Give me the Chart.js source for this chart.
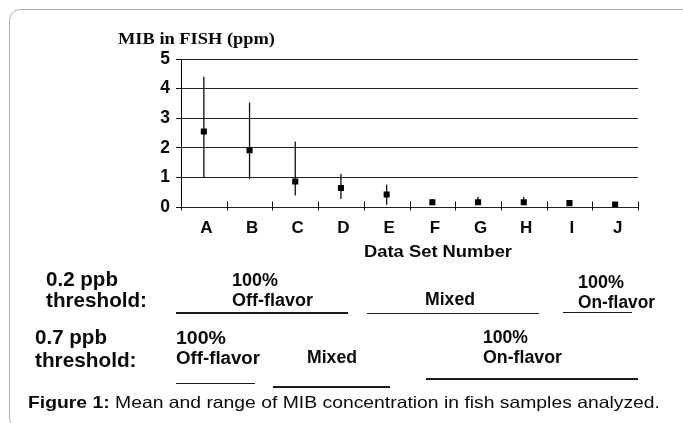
<!DOCTYPE html>
<html><head><meta charset="utf-8">
<script src="https://cdn.jsdelivr.net/npm/chart.js@4.4.1/dist/chart.umd.min.js"></script>
<style>
html,body{margin:0;padding:0;background:#fff;width:683px;height:423px;overflow:hidden;}
#wrap{position:relative;width:683px;height:423px;}
#c{position:absolute;left:0;top:0;}
.t{position:absolute;white-space:nowrap;font-family:"Liberation Sans",Arial,sans-serif;font-weight:bold;color:#0a0a0a;transform-origin:0 0;}
.ln{position:absolute;background:#1a1a1a;height:1.5px;}
#box{position:absolute;left:9px;top:9px;width:690px;height:420px;border:1px solid #b4b4b4;border-radius:11px;box-sizing:border-box;}
</style></head>
<body><div id="wrap"><div id="box"></div><canvas id="c" width="683" height="423"></canvas></div>
<script>
// ---- data ----
const categories = ['A','B','C','D','E','F','G','H','I','J'];
const meanValues = [2.55,1.92,0.86,0.64,0.42,0.16,0.16,0.16,0.13,0.08];
const highValues = [4.40,3.53,2.21,1.12,0.76,0.26,0.35,0.35,0.18,0.10];
const lowValues  = [1.00,0.94,0.39,0.27,0.08,0.13,0.13,0.13,0.10,0.06];
const yMin = 0, yMax = 5, yStep = 1;

const FONT = '"Liberation Sans", Arial, sans-serif';

const rangePlugin = {
  id: 'ranges',
  beforeDatasetsDraw(chart) {
    const {ctx, scales: {x, y}} = chart;
    ctx.save();
    // x axis tick marks crossing the axis at category boundaries
    ctx.strokeStyle = '#111';
    ctx.lineWidth = 1;
    const y0 = y.getPixelForValue(0);
    for (let k = 0; k <= categories.length; k++) {
      const px = Math.round(x.getPixelForValue(k - 0.5)) + 0.5;
      ctx.beginPath();
      ctx.moveTo(px, y0 - 5.5);
      ctx.lineTo(px, y0 + 3.5);
      ctx.stroke();
    }
    // range bars
    ctx.strokeStyle = '#111';
    ctx.lineWidth = 1.3;
    for (let i = 0; i < categories.length; i++) {
      const px = x.getPixelForValue(i);
      ctx.beginPath();
      ctx.moveTo(px, y.getPixelForValue(lowValues[i]));
      ctx.lineTo(px, y.getPixelForValue(highValues[i]));
      ctx.stroke();
    }
    ctx.restore();
  }
};

new Chart(document.getElementById('c'), {
  type: 'line',
  data: {
    labels: categories,
    datasets: [{
      data: meanValues,
      showLine: false,
      pointStyle: 'rect',
      pointRadius: 4.3,
      pointBorderWidth: 0,
      pointBackgroundColor: '#000',
      pointBorderColor: '#000'
    }]
  },
  options: {
    responsive: false,
    animation: false,
    events: [],
    layout: {padding: {left: 0, top: 59, right: 45, bottom: 186}},
    plugins: {legend: {display: false}, tooltip: {enabled: false}, title: {display: false}},
    scales: {
      x: {
        type: 'category',
        offset: true,
        grid: {display: false, drawTicks: false},
        border: {display: false},
        ticks: {padding: 11, labelOffset: 2.5, color: '#0a0a0a', font: {family: FONT, size: 17, weight: 'bold'}, maxRotation: 0, autoSkip: false},
        afterFit(s) { s.height = 30; }
      },
      y: {
        min: yMin, max: yMax,
        ticks: {stepSize: yStep, padding: 6, color: '#0a0a0a', font: {family: FONT, size: 17.5, weight: 'bold'}},
        grid: {color: '#222', lineWidth: 1, drawTicks: true, tickLength: 5, tickColor: '#111'},
        border: {display: true, color: '#000', width: 1},
        afterFit(s) { s.width = 181; }
      }
    }
  },
  plugins: [rangePlugin]
});

// ---- text annotations ----
const wrap = document.getElementById('wrap');
function place(html, x, b, f, w, cls, asc) {
  const el = document.createElement('div');
  el.className = 't' + (cls ? ' ' + cls : '');
  el.innerHTML = html;
  el.style.fontSize = f + 'px';
  el.style.lineHeight = f + 'px';
  el.style.left = x + 'px';
  el.style.top = (b - (asc || 0.8465) * f) + 'px';
  wrap.appendChild(el);
  const mw = el.getBoundingClientRect().width;
  el.style.transform = 'scaleX(' + (w / mw).toFixed(4) + ')';
  return el;
}
function line(x1, x2, y) {
  const el = document.createElement('div');
  el.className = 'ln';
  el.style.left = x1 + 'px';
  el.style.width = (x2 - x1) + 'px';
  el.style.top = (y - 0.75) + 'px';
  wrap.appendChild(el);
}

const yt = place('MIB in FISH (ppm)', 118, 44.5, 17, 157, null, 0.8375);
yt.style.fontFamily = '"Liberation Serif","Times New Roman",serif';
yt.style.transform = '';
yt.style.transform = 'scaleX(' + (157 / yt.getBoundingClientRect().width).toFixed(4) + ')';

place('Data Set Number', 364, 257, 17, 148);

place('0.2 ppb', 46, 286.5, 20.5, 72);
place('threshold:', 46, 307.5, 20.5, 101);
place('100%', 232, 287, 17.5, 46);
place('Off-flavor', 232, 307, 17.5, 81);
place('Mixed', 425, 306, 17.5, 50);
place('100%', 578, 288.5, 17.5, 46);
place('On-flavor', 578, 308.5, 17.5, 77);
line(176, 348, 313);
line(367, 539, 313.5);
line(563, 632, 312.7);

place('0.7 ppb', 35, 344.5, 20.5, 72);
place('threshold:', 35, 367.5, 20.5, 101.5);
place('100%', 176, 345, 17.5, 50);
place('Off-flavor', 176, 365, 17.5, 84);
place('Mixed', 306.5, 363.5, 17.5, 50);
place('100%', 483, 344, 17.5, 45);
place('On-flavor', 483, 364, 17.5, 79);
line(176, 255, 383.7);
line(273, 390, 387);
line(426, 638, 379);

const cap = place('<b>Figure 1:</b> Mean and range of MIB concentration in fish samples analyzed.', 28, 408, 16.5, 632);
cap.style.fontWeight = 'normal';
cap.style.transform = '';
cap.style.transform = 'scaleX(' + (632 / cap.getBoundingClientRect().width).toFixed(4) + ')';
</script>
</body></html>
